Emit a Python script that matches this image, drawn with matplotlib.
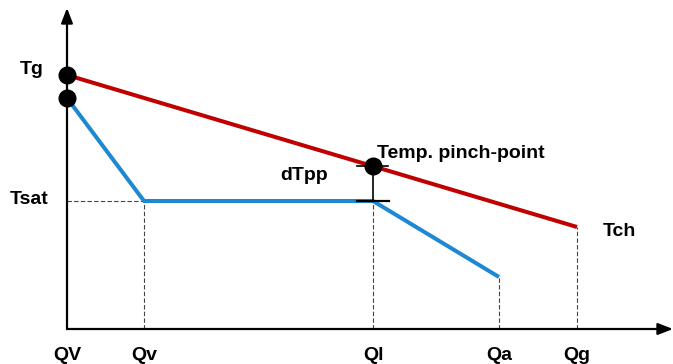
import matplotlib
matplotlib.use("Agg")
import matplotlib.pyplot as plt

# heat duty positions (Q) and temperatures (T) of the schematic, in figure units
q_labels = ["QV", "Qv", "Ql", "Qa", "Qg"]
q_pos = [67, 144, 373, 499, 577]

hot_q = [67, 577]
hot_t = [289, 137]

cold_q = [67, 144, 373, 499]
cold_t = [266, 163, 163, 87]

t_sat = 163
t_pinch = 198
origin_q, origin_t = 67, 35

plt.rcParams["font.family"] = ["Liberation Sans", "DejaVu Sans"]

fig = plt.figure(figsize=(6.73, 3.64), dpi=100)
ax = fig.add_axes([0, 0, 1, 1])
ax.set_xlim(0, 673)
ax.set_ylim(0, 364)
ax.axis("off")

# axes with arrows
arrow = dict(arrowstyle="-|>,head_length=0.9,head_width=0.35", color="black",
             lw=1.6, shrinkA=0, shrinkB=0)
ax.annotate("", xy=(673, origin_t), xytext=(origin_q, origin_t), arrowprops=arrow)
ax.annotate("", xy=(origin_q, 356), xytext=(origin_q, origin_t), arrowprops=arrow)

# dashed guide lines
dash = dict(color="#444444", lw=0.8, ls=(0, (4, 2)))
ax.plot([origin_q, cold_q[1]], [t_sat, t_sat], **dash)
ax.plot([cold_q[1]] * 2, [origin_t, cold_t[1]], **dash)
ax.plot([cold_q[2]] * 2, [origin_t, cold_t[2]], **dash)
ax.plot([cold_q[3]] * 2, [origin_t, cold_t[3]], **dash)
ax.plot([hot_q[1]] * 2, [origin_t, hot_t[1]], **dash)

# streams
ax.plot(hot_q, hot_t, color="#C00000", lw=2.9, solid_capstyle="butt")
ax.plot(cold_q, cold_t, color="#1E88D2", lw=2.9, solid_capstyle="butt")

# pinch-point bracket
ax.plot([q_pos[2], q_pos[2]], [t_sat, t_pinch], color="black", lw=1.2)
ax.plot([q_pos[2] - 16, q_pos[2] + 15], [t_pinch, t_pinch], color="black", lw=1.2)
ax.plot([q_pos[2] - 16, q_pos[2] + 16], [t_sat, t_sat], color="black", lw=1.6)

# dots
ax.plot([hot_q[0], cold_q[0], q_pos[2]], [hot_t[0], cold_t[0], t_pinch], "o",
        color="black", ms=12, zorder=5)

txt = dict(fontsize=14, fontweight="bold")
ax.text(32, 294, "Tg", ha="center", va="center", **txt)
ax.text(29, 164, "Tsat", ha="center", va="center", **txt)
ax.text(304, 188, "dTpp", ha="center", va="center", **txt)
ax.text(377, 211, "Temp. pinch-point", ha="left", va="center", **txt)
ax.text(619, 132, "Tch", ha="center", va="center", **txt)
for lab, q in zip(q_labels, q_pos):
    ax.text(q, 9, lab, ha="center", va="center", **txt)

fig.savefig("out.png", dpi=100)
